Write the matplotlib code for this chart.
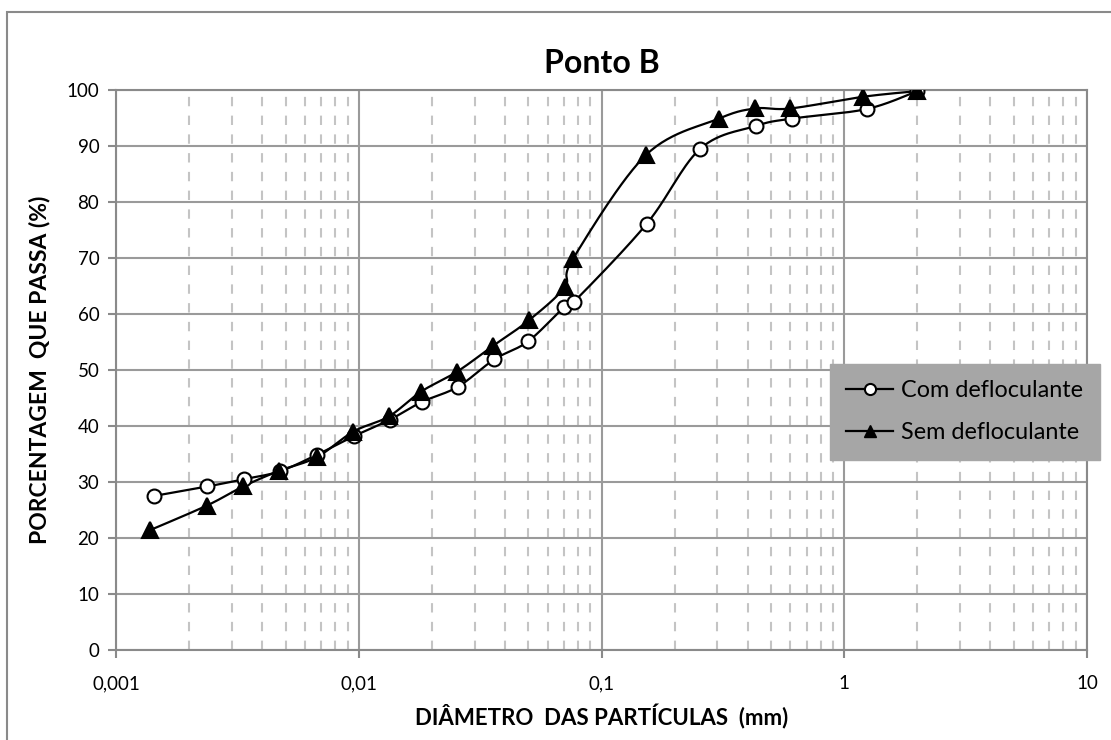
import numpy as np
import matplotlib
matplotlib.use("Agg")
import matplotlib.pyplot as plt
from matplotlib.ticker import FixedLocator, FuncFormatter, LogLocator, NullFormatter
from matplotlib.lines import Line2D
from matplotlib.patches import Rectangle

# Grain-size distribution, Ponto B
diam_com = [0.00143, 0.00238, 0.00336, 0.00472, 0.00675, 0.00957, 0.0134, 0.0182,
            0.0256, 0.0362, 0.0498, 0.0701, 0.0771, 0.1535, 0.255, 0.434, 0.61, 1.236, 2.0]
pass_com = [27.5, 29.2, 30.5, 31.9, 34.9, 38.2, 41.1, 44.3,
            47.0, 51.9, 55.1, 61.2, 62.2, 76.1, 89.5, 93.6, 94.9, 96.6, 99.8]

diam_sem = [0.00138, 0.00237, 0.00334, 0.0047, 0.0067, 0.0095, 0.0133, 0.018,
            0.0254, 0.0357, 0.0503, 0.0705, 0.0764, 0.1525, 0.305, 0.43, 0.6, 1.2, 2.0]
pass_sem = [21.4, 25.8, 29.2, 32.0, 34.4, 39.0, 41.7, 46.1,
            49.7, 54.3, 58.9, 64.8, 69.9, 88.4, 94.9, 96.7, 96.7, 98.8, 99.8]

x_ticks = [0.001, 0.01, 0.1, 1, 10]
x_tick_labels = ["0,001", "0,01", "0,1", "1", "10"]
y_ticks = list(range(0, 101, 10))

plt.rcParams["font.family"] = ["Lato", "DejaVu Sans"]

W, H = 1111, 740
fig = plt.figure(figsize=(W / 100, H / 100), dpi=100)
ax = fig.add_axes([116 / W, 1 - 650 / H, (1087 - 116) / W, (650 - 90) / H])


def smooth(xs, ys, n=30):
    # Catmull-Rom spline in screen-like space (log x, linear y)
    u = np.log10(np.asarray(xs, float)) * 242.0
    v = np.asarray(ys, float) * 5.6
    P = np.column_stack([u, v])
    P = np.vstack([P[0], P, P[-1]])
    out = []
    for i in range(1, len(P) - 2):
        p0, p1, p2, p3 = P[i - 1], P[i], P[i + 1], P[i + 2]
        c1 = p1 + (p2 - p0) / 6.0
        c2 = p2 - (p3 - p1) / 6.0
        t = np.linspace(0, 1, n)[:, None]
        seg = ((1 - t) ** 3) * p1 + 3 * ((1 - t) ** 2) * t * c1 + 3 * (1 - t) * t ** 2 * c2 + t ** 3 * p2
        out.append(seg if i == 1 else seg[1:])
    S = np.vstack(out)
    return 10 ** (S[:, 0] / 242.0), S[:, 1] / 5.6


for xs, ys, mk, ms, fc in [(diam_com, pass_com, "o", 10, "white"),
                           (diam_sem, pass_sem, "^", 11.5, "black")]:
    sx, sy = smooth(xs, ys)
    ax.plot(sx, sy, color="black", lw=1.6, zorder=3)
    ax.plot(xs, ys, ls="none", marker=mk, ms=ms, mfc=fc, mec="black", mew=1.5, zorder=4)

ax.set_xscale("log")
ax.set_xlim(0.001, 10)
ax.set_ylim(0, 100)

ax.xaxis.set_major_locator(FixedLocator(x_ticks))
ax.xaxis.set_major_formatter(FuncFormatter(lambda v, p: x_tick_labels[x_ticks.index(v)] if v in x_ticks else ""))
ax.xaxis.set_minor_locator(LogLocator(base=10, subs=np.arange(2, 10)))
ax.xaxis.set_minor_formatter(NullFormatter())
ax.set_yticks(y_ticks)

ax.grid(which="major", color="#9a9a9a", lw=1.5, ls="-")
ax.grid(which="minor", axis="x", color="#c4c4c4", lw=1.5, ls=(0, (4.5, 4.5)))
ax.set_axisbelow(True)

for s in ax.spines.values():
    s.set_color("#8a8a8a")
    s.set_linewidth(1.5)

ax.tick_params(which="major", direction="out", length=6, width=1.5, color="#8a8a8a",
               labelsize=13.5, pad=6)
ax.tick_params(axis="x", which="major", pad=12)
ax.tick_params(which="minor", length=0)

ax.set_title("Ponto B", fontsize=23, fontweight="bold", pad=12)
ax.set_xlabel("DIÂMETRO  DAS PARTÍCULAS  (mm)", fontsize=16, fontweight="bold", labelpad=9)
ax.set_ylabel("PORCENTAGEM  QUE PASSA (%)", fontsize=16.5, fontweight="bold", labelpad=12)

handles = [Line2D([], [], color="black", lw=1.6, marker="o", ms=8, mfc="white", mec="black", mew=1.5),
           Line2D([], [], color="black", lw=1.6, marker="^", ms=9, mfc="black", mec="black")]
leg = fig.legend(handles, ["Com defloculante", "Sem defloculante"],
                 loc="upper left", bbox_to_anchor=(830 / W, 1 - 364 / H),
                 bbox_transform=fig.transFigure, borderaxespad=0,
                 fontsize=16.8, frameon=True, fancybox=False, framealpha=1,
                 facecolor="#a6a6a6", edgecolor="#a6a6a6", handlelength=2.0,
                 handletextpad=0.35, borderpad=0.7, labelspacing=0.9)

# chart area border
fig.patches.append(Rectangle((7 / W, -0.05), 1.1, 1 - 12 / H + 0.05,
                             transform=fig.transFigure, fill=False,
                             edgecolor="#8a8a8a", lw=1.5))

fig.savefig("out.png", dpi=100)
